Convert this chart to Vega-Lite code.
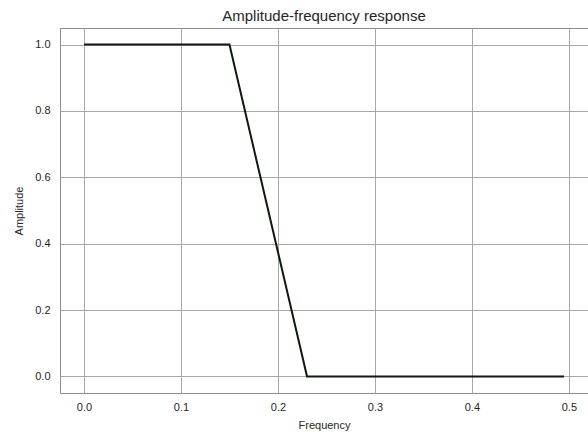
{
  "$schema": "https://vega.github.io/schema/vega-lite/v6.json",
  "width": 528,
  "height": 365,
  "autosize": {"type": "none"},
  "padding": {"left": 60, "top": 28, "right": 0, "bottom": 41},
  "background": "white",
  "title": {"text": "Amplitude-frequency response", "font": "Liberation Sans", "fontSize": 15, "fontWeight": "normal", "color": "#262626", "offset": 4},
  "config": {
    "view": {"stroke": "#8c8c8c", "strokeWidth": 1},
    "axis": {"labelFont": "Liberation Sans", "titleFont": "Liberation Sans", "labelFontSize": 11, "titleFontSize": 11, "titleFontWeight": "normal", "labelColor": "#262626", "titleColor": "#262626", "gridColor": "#a8a8a8", "gridWidth": 1, "gridOpacity": 1, "domain": false, "ticks": false}
  },
  "data": {"values": [
    {"f": 0.0, "a": 1.0},
    {"f": 0.15, "a": 1.0},
    {"f": 0.23, "a": 0.0},
    {"f": 0.495, "a": 0.0}
  ]},
  "mark": {"type": "line", "color": "#0d1a0d", "strokeWidth": 2},
  "encoding": {
    "x": {"field": "f", "type": "quantitative", "title": "Frequency",
      "scale": {"domain": [-0.02475, 0.51975], "nice": false, "zero": false},
      "axis": {"values": [0, 0.1, 0.2, 0.3, 0.4, 0.5], "format": ".1f", "labelPadding": 8, "titlePadding": 7}},
    "y": {"field": "a", "type": "quantitative", "title": "Amplitude",
      "scale": {"domain": [-0.05, 1.05], "nice": false, "zero": false},
      "axis": {"values": [0, 0.2, 0.4, 0.6, 0.8, 1.0], "format": ".1f", "labelPadding": 10, "titlePadding": 10}}
  }
}
